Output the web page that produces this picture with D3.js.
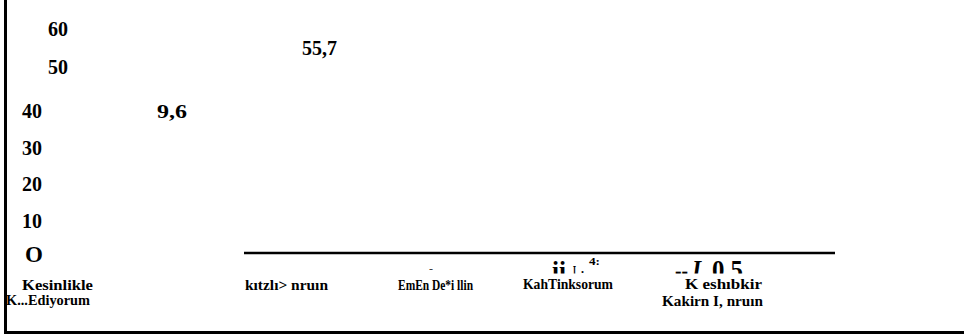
<!DOCTYPE html>
<html>
<head>
<meta charset="utf-8">
<script src="https://cdn.jsdelivr.net/npm/d3@7/dist/d3.min.js"></script>
<style>
  html, body { margin: 0; padding: 0; background: #fff; }
  svg { display: block; }
  text { font-family: "Liberation Serif", "Times New Roman", serif; font-weight: bold; fill: #000; }
</style>
</head>
<body>
<svg id="chart" width="964" height="336"></svg>
<script>
// ---- data ----
const categories = ["Kesinlikle K...Ediyorum", "kıtzlı> nruın", "EmEnDe*iIlin", "KahTinksorum", "K eshıbkir Kakirn I, nruın"];
const categoryLines = [["Kesinlikle", "K...Ediyorum"], ["kıtzlı> nruın"], ["EmEn De*i llin"], ["KahTinksorum"], ["K eshıbkir", "Kakirn I, nruın"]];
const values = [9.6, 55.7, null, null, 0.5];
const valueLabels = ["9,6", "55,7", "-", "ii I . 4:", "--I. 0.5"];
const tickValues = [60, 50, 40, 30, 20, 10, 0];
const tickLabels = ["60", "50", "40", "30", "20", "10", "O"];

// ---- layout (positions/styles kept separate from data) ----
const W = 964, H = 336;
const svg = d3.select("#chart");

// y scale for tick label baselines (piecewise, as in the source image)
const y = d3.scaleLinear().domain([0, 10, 40, 50, 60]).range([262, 228, 118, 74, 36]);
const tickX = d3.scaleOrdinal().domain(tickLabels).range([48, 48, 22, 22, 22, 22, 25]);
const tickSize = d3.scaleOrdinal().domain(tickLabels).range([20, 20, 20, 20, 20, 20, 23]);

// x positions of category labels
const xCat = d3.scaleOrdinal().domain(categories).range([57, 287, 435, 568, 723]);

// frame lines
svg.append("line").attr("x1", 5.5).attr("x2", 5.5).attr("y1", 0).attr("y2", 334)
  .attr("stroke", "#000").attr("stroke-width", 3);
svg.append("line").attr("x1", 4).attr("x2", W).attr("y1", 332.5).attr("y2", 332.5)
  .attr("stroke", "#000").attr("stroke-width", 3);

// axis baseline
svg.append("line").attr("x1", 244).attr("x2", 835).attr("y1", 253).attr("y2", 253)
  .attr("stroke", "#000").attr("stroke-width", 2.5);

// tick labels
svg.selectAll("text.tick").data(tickValues).enter().append("text")
  .attr("class", "tick")
  .attr("x", (d, i) => tickX(tickLabels[i]))
  .attr("y", d => y(d))
  .attr("font-size", (d, i) => tickSize(tickLabels[i]))
  .text((d, i) => tickLabels[i]);

// clip for the half-hidden value labels
svg.append("clipPath").attr("id", "clipTop")
  .append("rect").attr("x", 0).attr("y", 0).attr("width", W).attr("height", 273.5);

// value labels: each split into pieces (glyph runs) with their own placement
const valLayout = [
  [{t: [0, 3], x: 157, y: 118, size: 19, len: 30}],
  [{t: [0, 4], x: 302, y: 55, size: 20, len: 35}],
  [{t: [0, 1], x: 429, y: 272, size: 9, len: 4}],
  [{t: [0, 2], x: 552, y: 279, size: 25, len: 14, clip: true},
   {t: [3, 4], x: 573, y: 279, size: 19, len: 3, clip: true, weight: "normal"},
   {t: [5, 6], x: 581, y: 273, size: 12, len: 3, clip: true, weight: "normal"},
   {t: [7, 9], x: 589, y: 265, size: 11, len: 11}],
  [{t: [0, 2], x: 675, y: 279, size: 27, len: 13, clip: true},
   {t: [2, 4], x: 692, y: 279, size: 27, len: 15, clip: true, italic: true},
   {t: [5, 8], x: 712, y: 279, size: 27, len: 31, clip: true}]
];

const vg = svg.append("g");
valueLabels.forEach((lab, i) => {
  valLayout[i].forEach(L => {
    const t = vg.append("text")
      .attr("x", L.x).attr("y", L.y)
      .attr("font-size", L.size)
      .attr("textLength", L.len)
      .attr("lengthAdjust", "spacingAndGlyphs")
      .text(lab.slice(L.t[0], L.t[1]));
    if (L.clip) t.attr("clip-path", "url(#clipTop)");
    if (L.italic) t.attr("font-style", "italic");
    if (L.weight) t.attr("font-weight", L.weight);
  });
});

// category labels
const catLayout = [
  [{x: 22, y: 290, size: 15, len: 71}, {x: 6, y: 305, size: 14, len: 84}],
  [{x: 245, y: 290, size: 14, len: 83}],
  [{x: 398, y: 290, size: 14, len: 75}],
  [{x: 523, y: 289, size: 14, len: 90}],
  [{x: 685, y: 289, size: 15, len: 77}, {x: 662, y: 306, size: 15, len: 101}]
];
categories.forEach((c, i) => {
  categoryLines[i].forEach((line, j) => {
    const L = catLayout[i][j];
    svg.append("text")
      .attr("class", "cat")
      .attr("data-center", xCat(c))
      .attr("x", L.x).attr("y", L.y)
      .attr("font-size", L.size)
      .attr("textLength", L.len)
      .attr("lengthAdjust", "spacingAndGlyphs")
      .text(line);
  });
});
</script>
</body>
</html>
